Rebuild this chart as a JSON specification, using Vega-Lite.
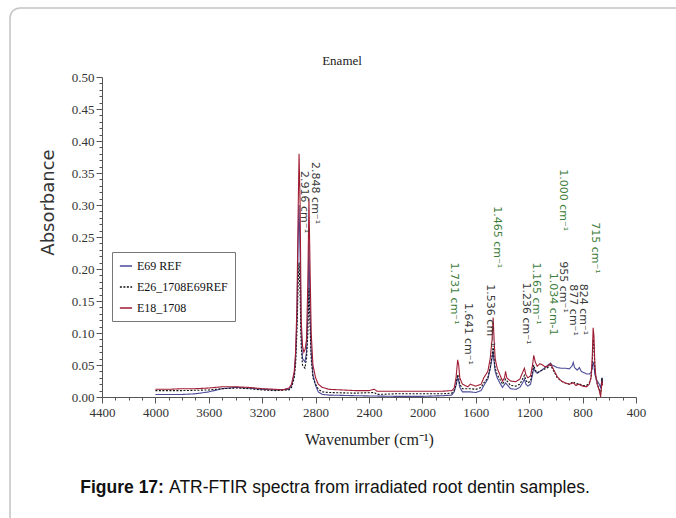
{
  "$schema": "https://vega.github.io/schema/vega-lite/v6.json",
  "width": 534,
  "height": 320,
  "autosize": {"type": "none"},
  "padding": {"left": 102, "top": 77, "right": 40, "bottom": 121},
  "background": "white",
  "config": {"view": {"stroke": null}, "axis": {"labelOverlap": false, "labelBound": false, "labelFlush": false, "grid": false}},
  "resolve": {"axis": {"x": "independent", "y": "independent"}},
  "datasets": {
    "spectra": [
      {"s":"E69 REF","w":4000,"a":0.004},{"s":"E69 REF","w":3800,"a":0.004},{"s":"E69 REF","w":3700,"a":0.005},{"s":"E69 REF","w":3600,"a":0.008},{"s":"E69 REF","w":3500,"a":0.013},{"s":"E69 REF","w":3400,"a":0.015},{"s":"E69 REF","w":3300,"a":0.014},{"s":"E69 REF","w":3200,"a":0.012},{"s":"E69 REF","w":3100,"a":0.011},{"s":"E69 REF","w":3000,"a":0.012},{"s":"E69 REF","w":2980,"a":0.018},{"s":"E69 REF","w":2960,"a":0.035},{"s":"E69 REF","w":2950,"a":0.06},{"s":"E69 REF","w":2940,"a":0.12},{"s":"E69 REF","w":2930,"a":0.25},{"s":"E69 REF","w":2924,"a":0.30},{"s":"E69 REF","w":2916,"a":0.22},{"s":"E69 REF","w":2908,"a":0.10},{"s":"E69 REF","w":2898,"a":0.06},{"s":"E69 REF","w":2880,"a":0.055},{"s":"E69 REF","w":2868,"a":0.07},{"s":"E69 REF","w":2858,"a":0.13},{"s":"E69 REF","w":2850,"a":0.24},{"s":"E69 REF","w":2843,"a":0.15},{"s":"E69 REF","w":2833,"a":0.07},{"s":"E69 REF","w":2820,"a":0.035},{"s":"E69 REF","w":2800,"a":0.018},{"s":"E69 REF","w":2780,"a":0.008},{"s":"E69 REF","w":2750,"a":0.004},{"s":"E69 REF","w":2700,"a":0.003},{"s":"E69 REF","w":2500,"a":0.002},{"s":"E69 REF","w":2200,"a":0.001},{"s":"E69 REF","w":2000,"a":0.001},{"s":"E69 REF","w":1850,"a":0.002},{"s":"E69 REF","w":1780,"a":0.003},{"s":"E69 REF","w":1762,"a":0.008},{"s":"E69 REF","w":1748,"a":0.018},{"s":"E69 REF","w":1736,"a":0.03},{"s":"E69 REF","w":1728,"a":0.025},{"s":"E69 REF","w":1720,"a":0.015},{"s":"E69 REF","w":1700,"a":0.008},{"s":"E69 REF","w":1641,"a":0.008},{"s":"E69 REF","w":1600,"a":0.007},{"s":"E69 REF","w":1560,"a":0.01},{"s":"E69 REF","w":1540,"a":0.018},{"s":"E69 REF","w":1510,"a":0.028},{"s":"E69 REF","w":1492,"a":0.045},{"s":"E69 REF","w":1478,"a":0.06},{"s":"E69 REF","w":1470,"a":0.072},{"s":"E69 REF","w":1463,"a":0.055},{"s":"E69 REF","w":1455,"a":0.04},{"s":"E69 REF","w":1440,"a":0.03},{"s":"E69 REF","w":1420,"a":0.022},{"s":"E69 REF","w":1400,"a":0.015},{"s":"E69 REF","w":1377,"a":0.022},{"s":"E69 REF","w":1340,"a":0.013},{"s":"E69 REF","w":1300,"a":0.012},{"s":"E69 REF","w":1270,"a":0.015},{"s":"E69 REF","w":1250,"a":0.022},{"s":"E69 REF","w":1236,"a":0.028},{"s":"E69 REF","w":1225,"a":0.02},{"s":"E69 REF","w":1210,"a":0.017},{"s":"E69 REF","w":1190,"a":0.02},{"s":"E69 REF","w":1175,"a":0.035},{"s":"E69 REF","w":1166,"a":0.045},{"s":"E69 REF","w":1155,"a":0.04},{"s":"E69 REF","w":1140,"a":0.037},{"s":"E69 REF","w":1120,"a":0.04},{"s":"E69 REF","w":1100,"a":0.043},{"s":"E69 REF","w":1080,"a":0.046},{"s":"E69 REF","w":1060,"a":0.05},{"s":"E69 REF","w":1040,"a":0.053},{"s":"E69 REF","w":1030,"a":0.05},{"s":"E69 REF","w":1010,"a":0.048},{"s":"E69 REF","w":990,"a":0.046},{"s":"E69 REF","w":960,"a":0.045},{"s":"E69 REF","w":930,"a":0.045},{"s":"E69 REF","w":900,"a":0.044},{"s":"E69 REF","w":880,"a":0.048},{"s":"E69 REF","w":870,"a":0.054},{"s":"E69 REF","w":860,"a":0.046},{"s":"E69 REF","w":840,"a":0.042},{"s":"E69 REF","w":824,"a":0.046},{"s":"E69 REF","w":810,"a":0.04},{"s":"E69 REF","w":790,"a":0.038},{"s":"E69 REF","w":770,"a":0.036},{"s":"E69 REF","w":750,"a":0.036},{"s":"E69 REF","w":737,"a":0.038},{"s":"E69 REF","w":728,"a":0.045},{"s":"E69 REF","w":721,"a":0.055},{"s":"E69 REF","w":715,"a":0.05},{"s":"E69 REF","w":708,"a":0.035},{"s":"E69 REF","w":700,"a":0.03},{"s":"E69 REF","w":690,"a":0.025},{"s":"E69 REF","w":675,"a":0.02},{"s":"E69 REF","w":665,"a":0.015},{"s":"E69 REF","w":660,"a":0.02},{"s":"E69 REF","w":655,"a":0.03},{"s":"E69 REF","w":650,"a":0.025},
      {"s":"E26_1708E69REF","w":4000,"a":0.010},{"s":"E26_1708E69REF","w":3800,"a":0.010},{"s":"E26_1708E69REF","w":3600,"a":0.011},{"s":"E26_1708E69REF","w":3500,"a":0.013},{"s":"E26_1708E69REF","w":3400,"a":0.014},{"s":"E26_1708E69REF","w":3300,"a":0.013},{"s":"E26_1708E69REF","w":3200,"a":0.011},{"s":"E26_1708E69REF","w":3100,"a":0.010},{"s":"E26_1708E69REF","w":3000,"a":0.011},{"s":"E26_1708E69REF","w":2980,"a":0.015},{"s":"E26_1708E69REF","w":2960,"a":0.03},{"s":"E26_1708E69REF","w":2950,"a":0.05},{"s":"E26_1708E69REF","w":2940,"a":0.10},{"s":"E26_1708E69REF","w":2930,"a":0.18},{"s":"E26_1708E69REF","w":2924,"a":0.21},{"s":"E26_1708E69REF","w":2916,"a":0.16},{"s":"E26_1708E69REF","w":2908,"a":0.08},{"s":"E26_1708E69REF","w":2898,"a":0.05},{"s":"E26_1708E69REF","w":2880,"a":0.045},{"s":"E26_1708E69REF","w":2868,"a":0.06},{"s":"E26_1708E69REF","w":2858,"a":0.10},{"s":"E26_1708E69REF","w":2850,"a":0.17},{"s":"E26_1708E69REF","w":2843,"a":0.12},{"s":"E26_1708E69REF","w":2833,"a":0.06},{"s":"E26_1708E69REF","w":2820,"a":0.03},{"s":"E26_1708E69REF","w":2800,"a":0.02},{"s":"E26_1708E69REF","w":2780,"a":0.012},{"s":"E26_1708E69REF","w":2750,"a":0.008},{"s":"E26_1708E69REF","w":2700,"a":0.007},{"s":"E26_1708E69REF","w":2500,"a":0.006},{"s":"E26_1708E69REF","w":2360,"a":0.007},{"s":"E26_1708E69REF","w":2340,"a":0.004},{"s":"E26_1708E69REF","w":2200,"a":0.005},{"s":"E26_1708E69REF","w":2000,"a":0.005},{"s":"E26_1708E69REF","w":1850,"a":0.005},{"s":"E26_1708E69REF","w":1780,"a":0.006},{"s":"E26_1708E69REF","w":1762,"a":0.01},{"s":"E26_1708E69REF","w":1748,"a":0.02},{"s":"E26_1708E69REF","w":1736,"a":0.035},{"s":"E26_1708E69REF","w":1728,"a":0.03},{"s":"E26_1708E69REF","w":1720,"a":0.02},{"s":"E26_1708E69REF","w":1700,"a":0.013},{"s":"E26_1708E69REF","w":1641,"a":0.013},{"s":"E26_1708E69REF","w":1600,"a":0.012},{"s":"E26_1708E69REF","w":1560,"a":0.015},{"s":"E26_1708E69REF","w":1540,"a":0.022},{"s":"E26_1708E69REF","w":1510,"a":0.03},{"s":"E26_1708E69REF","w":1492,"a":0.045},{"s":"E26_1708E69REF","w":1478,"a":0.065},{"s":"E26_1708E69REF","w":1470,"a":0.08},{"s":"E26_1708E69REF","w":1463,"a":0.06},{"s":"E26_1708E69REF","w":1455,"a":0.045},{"s":"E26_1708E69REF","w":1440,"a":0.035},{"s":"E26_1708E69REF","w":1420,"a":0.028},{"s":"E26_1708E69REF","w":1400,"a":0.02},{"s":"E26_1708E69REF","w":1377,"a":0.028},{"s":"E26_1708E69REF","w":1340,"a":0.018},{"s":"E26_1708E69REF","w":1300,"a":0.017},{"s":"E26_1708E69REF","w":1270,"a":0.02},{"s":"E26_1708E69REF","w":1250,"a":0.028},{"s":"E26_1708E69REF","w":1236,"a":0.034},{"s":"E26_1708E69REF","w":1225,"a":0.026},{"s":"E26_1708E69REF","w":1210,"a":0.022},{"s":"E26_1708E69REF","w":1190,"a":0.025},{"s":"E26_1708E69REF","w":1175,"a":0.04},{"s":"E26_1708E69REF","w":1166,"a":0.05},{"s":"E26_1708E69REF","w":1155,"a":0.042},{"s":"E26_1708E69REF","w":1140,"a":0.038},{"s":"E26_1708E69REF","w":1120,"a":0.04},{"s":"E26_1708E69REF","w":1100,"a":0.042},{"s":"E26_1708E69REF","w":1080,"a":0.044},{"s":"E26_1708E69REF","w":1060,"a":0.046},{"s":"E26_1708E69REF","w":1040,"a":0.05},{"s":"E26_1708E69REF","w":1030,"a":0.046},{"s":"E26_1708E69REF","w":1010,"a":0.038},{"s":"E26_1708E69REF","w":990,"a":0.03},{"s":"E26_1708E69REF","w":960,"a":0.025},{"s":"E26_1708E69REF","w":930,"a":0.022},{"s":"E26_1708E69REF","w":900,"a":0.02},{"s":"E26_1708E69REF","w":870,"a":0.024},{"s":"E26_1708E69REF","w":850,"a":0.02},{"s":"E26_1708E69REF","w":830,"a":0.021},{"s":"E26_1708E69REF","w":800,"a":0.018},{"s":"E26_1708E69REF","w":770,"a":0.018},{"s":"E26_1708E69REF","w":750,"a":0.022},{"s":"E26_1708E69REF","w":737,"a":0.03},{"s":"E26_1708E69REF","w":728,"a":0.05},{"s":"E26_1708E69REF","w":721,"a":0.09},{"s":"E26_1708E69REF","w":715,"a":0.08},{"s":"E26_1708E69REF","w":708,"a":0.045},{"s":"E26_1708E69REF","w":700,"a":0.03},{"s":"E26_1708E69REF","w":690,"a":0.02},{"s":"E26_1708E69REF","w":675,"a":0.012},{"s":"E26_1708E69REF","w":665,"a":0.005},{"s":"E26_1708E69REF","w":660,"a":0.015},{"s":"E26_1708E69REF","w":655,"a":0.03},{"s":"E26_1708E69REF","w":650,"a":0.02},
      {"s":"E18_1708","w":4000,"a":0.012},{"s":"E18_1708","w":3900,"a":0.012},{"s":"E18_1708","w":3800,"a":0.013},{"s":"E18_1708","w":3700,"a":0.013},{"s":"E18_1708","w":3600,"a":0.014},{"s":"E18_1708","w":3500,"a":0.016},{"s":"E18_1708","w":3400,"a":0.016},{"s":"E18_1708","w":3300,"a":0.015},{"s":"E18_1708","w":3200,"a":0.013},{"s":"E18_1708","w":3100,"a":0.012},{"s":"E18_1708","w":3050,"a":0.011},{"s":"E18_1708","w":3000,"a":0.014},{"s":"E18_1708","w":2980,"a":0.02},{"s":"E18_1708","w":2960,"a":0.04},{"s":"E18_1708","w":2950,"a":0.07},{"s":"E18_1708","w":2940,"a":0.14},{"s":"E18_1708","w":2930,"a":0.30},{"s":"E18_1708","w":2924,"a":0.38},{"s":"E18_1708","w":2916,"a":0.30},{"s":"E18_1708","w":2908,"a":0.12},{"s":"E18_1708","w":2898,"a":0.08},{"s":"E18_1708","w":2888,"a":0.07},{"s":"E18_1708","w":2878,"a":0.075},{"s":"E18_1708","w":2868,"a":0.09},{"s":"E18_1708","w":2858,"a":0.18},{"s":"E18_1708","w":2850,"a":0.31},{"s":"E18_1708","w":2843,"a":0.22},{"s":"E18_1708","w":2833,"a":0.10},{"s":"E18_1708","w":2820,"a":0.05},{"s":"E18_1708","w":2800,"a":0.03},{"s":"E18_1708","w":2780,"a":0.02},{"s":"E18_1708","w":2750,"a":0.015},{"s":"E18_1708","w":2700,"a":0.012},{"s":"E18_1708","w":2600,"a":0.011},{"s":"E18_1708","w":2500,"a":0.010},{"s":"E18_1708","w":2400,"a":0.010},{"s":"E18_1708","w":2360,"a":0.012},{"s":"E18_1708","w":2340,"a":0.009},{"s":"E18_1708","w":2200,"a":0.009},{"s":"E18_1708","w":2000,"a":0.009},{"s":"E18_1708","w":1850,"a":0.009},{"s":"E18_1708","w":1780,"a":0.010},{"s":"E18_1708","w":1762,"a":0.014},{"s":"E18_1708","w":1748,"a":0.03},{"s":"E18_1708","w":1736,"a":0.058},{"s":"E18_1708","w":1728,"a":0.05},{"s":"E18_1708","w":1720,"a":0.03},{"s":"E18_1708","w":1700,"a":0.02},{"s":"E18_1708","w":1660,"a":0.016},{"s":"E18_1708","w":1641,"a":0.02},{"s":"E18_1708","w":1600,"a":0.017},{"s":"E18_1708","w":1560,"a":0.02},{"s":"E18_1708","w":1540,"a":0.03},{"s":"E18_1708","w":1510,"a":0.04},{"s":"E18_1708","w":1492,"a":0.06},{"s":"E18_1708","w":1478,"a":0.09},{"s":"E18_1708","w":1470,"a":0.124},{"s":"E18_1708","w":1463,"a":0.09},{"s":"E18_1708","w":1455,"a":0.06},{"s":"E18_1708","w":1440,"a":0.045},{"s":"E18_1708","w":1420,"a":0.035},{"s":"E18_1708","w":1400,"a":0.025},{"s":"E18_1708","w":1385,"a":0.03},{"s":"E18_1708","w":1377,"a":0.04},{"s":"E18_1708","w":1368,"a":0.03},{"s":"E18_1708","w":1340,"a":0.025},{"s":"E18_1708","w":1300,"a":0.024},{"s":"E18_1708","w":1270,"a":0.028},{"s":"E18_1708","w":1250,"a":0.038},{"s":"E18_1708","w":1236,"a":0.045},{"s":"E18_1708","w":1225,"a":0.035},{"s":"E18_1708","w":1210,"a":0.03},{"s":"E18_1708","w":1190,"a":0.033},{"s":"E18_1708","w":1175,"a":0.05},{"s":"E18_1708","w":1166,"a":0.065},{"s":"E18_1708","w":1155,"a":0.055},{"s":"E18_1708","w":1140,"a":0.048},{"s":"E18_1708","w":1120,"a":0.052},{"s":"E18_1708","w":1100,"a":0.05},{"s":"E18_1708","w":1080,"a":0.047},{"s":"E18_1708","w":1060,"a":0.048},{"s":"E18_1708","w":1040,"a":0.052},{"s":"E18_1708","w":1030,"a":0.048},{"s":"E18_1708","w":1010,"a":0.04},{"s":"E18_1708","w":990,"a":0.032},{"s":"E18_1708","w":960,"a":0.025},{"s":"E18_1708","w":930,"a":0.022},{"s":"E18_1708","w":900,"a":0.02},{"s":"E18_1708","w":870,"a":0.022},{"s":"E18_1708","w":850,"a":0.018},{"s":"E18_1708","w":830,"a":0.02},{"s":"E18_1708","w":800,"a":0.017},{"s":"E18_1708","w":770,"a":0.016},{"s":"E18_1708","w":750,"a":0.02},{"s":"E18_1708","w":737,"a":0.03},{"s":"E18_1708","w":728,"a":0.06},{"s":"E18_1708","w":721,"a":0.108},{"s":"E18_1708","w":715,"a":0.095},{"s":"E18_1708","w":708,"a":0.05},{"s":"E18_1708","w":700,"a":0.03},{"s":"E18_1708","w":690,"a":0.02},{"s":"E18_1708","w":675,"a":0.01},{"s":"E18_1708","w":665,"a":0.0},{"s":"E18_1708","w":660,"a":0.012},{"s":"E18_1708","w":655,"a":0.025},{"s":"E18_1708","w":650,"a":0.018}
    ],
    "peaks": [
      {"t":"2.848 cm⁻¹","w":2804,"a":0.367,"k":"other"},
      {"t":"2.916 cm⁻¹","w":2887,"a":0.353,"k":"other"},
      {"t":"1.731 cm⁻¹","w":1763,"a":0.210,"k":"main"},
      {"t":"1.641 cm⁻¹","w":1658,"a":0.147,"k":"other"},
      {"t":"1.465 cm⁻¹","w":1441,"a":0.298,"k":"main"},
      {"t":"1.536 cm⁻¹","w":1494,"a":0.176,"k":"other"},
      {"t":"1.165 cm⁻¹","w":1149,"a":0.210,"k":"main"},
      {"t":"1.236 cm⁻¹","w":1224,"a":0.179,"k":"other"},
      {"t":"1.000 cm⁻¹","w":947,"a":0.356,"k":"main"},
      {"t":"955 cm⁻¹","w":947,"a":0.212,"k":"other"},
      {"t":"1.034 cm-1","w":1022,"a":0.194,"k":"main"},
      {"t":"877 cm⁻¹","w":872,"a":0.176,"k":"other"},
      {"t":"824 cm⁻¹","w":797,"a":0.177,"k":"other"},
      {"t":"715 cm⁻¹","w":707,"a":0.273,"k":"main"}
    ]
  },
  "layer": [
    {
      "data": {"values": [{}]},
      "mark": {"type": "rect", "fill": "transparent", "stroke": "#c4c4c4", "strokeWidth": 1.5, "cornerRadius": 10},
      "encoding": {
        "x": {"datum": 5089, "type": "quantitative", "scale": {"domain": [4400, 400], "nice": false, "zero": false}, "axis": null},
        "x2": {"datum": -5},
        "y": {"datum": 0.608, "type": "quantitative", "scale": {"domain": [0, 0.5], "nice": false}, "axis": null},
        "y2": {"datum": -0.224}
      }
    },
    {
      "data": {"name": "spectra"},
      "mark": {"type": "line", "strokeWidth": 1.1},
      "encoding": {
        "x": {
          "field": "w", "type": "quantitative",
          "scale": {"domain": [4400, 400], "nice": false, "zero": false},
          "axis": {
            "orient": "bottom",
            "values": [4400,4000,3600,3200,2800,2400,2000,1600,1200,800,400],
            "format": "d",
            "tickSize": 6, "domainColor": "#555", "tickColor": "#555",
            "labelFont": "Liberation Serif", "labelFontSize": 13, "labelColor": "#333", "labelPadding": 3,
            "title": "Wavenumber (cm⁻¹)", "titleFont": "Liberation Serif", "titleFontSize": 16,
            "titleFontWeight": "normal", "titleColor": "#222", "titlePadding": 12
          }
        },
        "y": {
          "field": "a", "type": "quantitative",
          "scale": {"domain": [0, 0.5], "nice": false},
          "axis": {
            "orient": "left",
            "values": [0,0.05,0.1,0.15,0.2,0.25,0.3,0.35,0.4,0.45,0.5],
            "format": ".2f",
            "tickSize": 6, "domainColor": "#555", "tickColor": "#555",
            "labelFont": "Liberation Serif", "labelFontSize": 13, "labelColor": "#333", "labelPadding": 2,
            "title": "Absorbance", "titleFont": "DejaVu Sans", "titleFontSize": 18,
            "titleFontWeight": "normal", "titleColor": "#333", "titlePadding": 14, "titleY": 125
          }
        },
        "color": {
          "field": "s", "type": "nominal",
          "scale": {"domain": ["E69 REF", "E26_1708E69REF", "E18_1708"], "range": ["#4b4b98", "#111111", "#a01c34"]},
          "legend": {"orient": "none", "legendX": 10, "legendY": 175, "title": null, "symbolType": "stroke", "symbolSize": 150, "symbolStrokeWidth": 1.5,
            "labelFont": "Liberation Serif", "labelFontSize": 12, "labelColor": "#111", "strokeColor": "#777", "fillColor": "white", "padding": 7, "rowPadding": 8, "labelOffset": 4}
        },
        "strokeDash": {
          "field": "s", "type": "nominal",
          "scale": {"domain": ["E69 REF", "E26_1708E69REF", "E18_1708"], "range": [[1, 0], [2, 1.5], [1, 0]]},
          "legend": {"orient": "none", "legendX": 10, "legendY": 175, "title": null, "symbolType": "stroke", "symbolSize": 150, "symbolStrokeWidth": 1.5,
            "labelFont": "Liberation Serif", "labelFontSize": 12, "labelColor": "#111", "strokeColor": "#777", "fillColor": "white", "padding": 7, "rowPadding": 8, "labelOffset": 4}
        }
      }
    },
    {
      "data": {"name": "peaks"},
      "transform": [{"filter": "datum.k === 'main'"}],
      "mark": {"type": "text", "angle": 90, "align": "left", "baseline": "middle", "font": "DejaVu Sans", "fontSize": 11, "color": "#3d7d3a"},
      "encoding": {
        "x": {"field": "w", "type": "quantitative", "scale": {"domain": [4400, 400], "nice": false, "zero": false},
          "axis": {"orient": "bottom", "values": [4300,4200,4100,3900,3800,3700,3500,3400,3300,3100,3000,2900,2700,2600,2500,2300,2200,2100,1900,1800,1700,1500,1400,1300,1100,1000,900,700,600,500],
            "labels": false, "domain": false, "tickSize": 3, "tickColor": "#555", "title": null}},
        "y": {"field": "a", "type": "quantitative", "scale": {"domain": [0, 0.5], "nice": false},
          "axis": {"orient": "left", "values": [0.01,0.02,0.03,0.04,0.06,0.07,0.08,0.09,0.11,0.12,0.13,0.14,0.16,0.17,0.18,0.19,0.21,0.22,0.23,0.24,0.26,0.27,0.28,0.29,0.31,0.32,0.33,0.34,0.36,0.37,0.38,0.39,0.41,0.42,0.43,0.44,0.46,0.47,0.48,0.49],
            "labels": false, "domain": false, "tickSize": 3, "tickColor": "#555", "title": null}},
        "text": {"field": "t"}
      }
    },
    {
      "data": {"name": "peaks"},
      "transform": [{"filter": "datum.k === 'other'"}],
      "mark": {"type": "text", "angle": 90, "align": "left", "baseline": "middle", "font": "DejaVu Sans", "fontSize": 11, "color": "#3a3a3a"},
      "encoding": {
        "x": {"field": "w", "type": "quantitative", "scale": {"domain": [4400, 400], "nice": false, "zero": false}, "axis": null},
        "y": {"field": "a", "type": "quantitative", "scale": {"domain": [0, 0.5], "nice": false}, "axis": null},
        "text": {"field": "t"}
      }
    },
    {
      "data": {"values": [{"t": "Enamel"}]},
      "mark": {"type": "text", "align": "center", "baseline": "middle", "font": "Liberation Serif", "fontSize": 13, "color": "#222"},
      "encoding": {
        "x": {"datum": 2602, "type": "quantitative", "axis": null},
        "y": {"datum": 0.525, "type": "quantitative", "axis": null},
        "text": {"field": "t"}
      }
    },
    {
      "data": {"values": [{"t": "Figure 17:"}]},
      "mark": {"type": "text", "align": "right", "baseline": "middle", "font": "Liberation Sans", "fontSize": 17.5, "fontWeight": "bold", "color": "#111"},
      "encoding": {
        "x": {"datum": 3936, "type": "quantitative", "axis": null},
        "y": {"datum": -0.1426, "type": "quantitative", "axis": null},
        "text": {"field": "t"}
      }
    },
    {
      "data": {"values": [{"t": "ATR-FTIR spectra from irradiated root dentin samples."}]},
      "mark": {"type": "text", "align": "left", "baseline": "middle", "font": "Liberation Sans", "fontSize": 17.5, "color": "#111"},
      "encoding": {
        "x": {"datum": 3898, "type": "quantitative", "axis": null},
        "y": {"datum": -0.1426, "type": "quantitative", "axis": null},
        "text": {"field": "t"}
      }
    }
  ]
}
